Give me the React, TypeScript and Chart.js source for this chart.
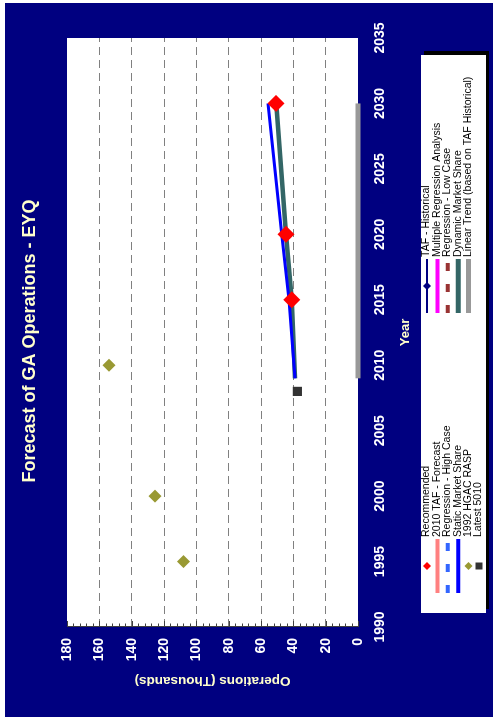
import React, { useEffect, useRef } from 'react';
import { Chart, registerables } from 'chart.js';

Chart.register(...registerables);

const FONT = "'Liberation Sans', Arial, Helvetica, sans-serif";

// ---- tick labels ----
const yearTicks = [1990, 1995, 2000, 2005, 2010, 2015, 2020, 2025, 2030, 2035];
const opsTicks = [0, 20, 40, 60, 80, 100, 120, 140, 160, 180];

// ---- series ----
const recommendedYears = [2015, 2020, 2030];
const recommendedOps = [41, 44.5, 50.7];

const staticYears = [2009, 2015, 2020, 2030];
const staticOps = [39, 42.7, 47.2, 55.7];

const dynamicYears = [2009, 2015, 2020, 2030];
const dynamicOps = [39, 41, 44.5, 50.5];

const hgacYears = [1995, 2000, 2010];
const hgacOps = [108, 125.5, 154];

const latestYears = [2008];
const latestOps = [37.5];

const linearYears = [2009, 2030];
const linearOps = [0, 0];

const tafHistYears: number[] = [];
const tafHistOps: number[] = [];
const taf2010Years: number[] = [];
const taf2010Ops: number[] = [];
const regHighYears: number[] = [];
const regHighOps: number[] = [];
const regLowYears: number[] = [];
const regLowOps: number[] = [];
const multiRegYears: number[] = [];
const multiRegOps: number[] = [];

const pts = (xs: number[], ys: number[]) => xs.map((x, i) => ({ x, y: ys[i] }));

const W = 723;
const H = 493;

const decorPlugin = {
  id: 'decor',
  beforeDraw(chart: any) {
    const { ctx, chartArea } = chart;
    ctx.save();
    ctx.fillStyle = '#ffffff';
    ctx.fillRect(0, 0, W, H);
    ctx.fillStyle = '#000080';
    ctx.fillRect(6, 5, 714, 488);
    ctx.fillStyle = '#ffffff';
    ctx.fillRect(chartArea.left, chartArea.top, chartArea.right - chartArea.left, chartArea.bottom - chartArea.top);
    ctx.restore();
  },
  afterDraw(chart: any) {
    const { ctx, chartArea } = chart;
    const yScale = chart.scales.y;
    ctx.save();
    // axis line + minor ticks
    ctx.strokeStyle = '#404040';
    ctx.lineWidth = 1;
    ctx.beginPath();
    ctx.moveTo(chartArea.left + 0.5, chartArea.top);
    ctx.lineTo(chartArea.left + 0.5, chartArea.bottom);
    ctx.stroke();
    for (let v = 0; v <= 180; v += 4) {
      const p = Math.round(yScale.getPixelForValue(v)) + 0.5;
      const len = v % 20 === 0 ? 6 : 3.5;
      ctx.beginPath();
      ctx.moveTo(chartArea.left, p);
      ctx.lineTo(chartArea.left + len, p);
      ctx.stroke();
    }

    // title
    ctx.fillStyle = '#FFFFCC';
    ctx.font = `bold 18px ${FONT}`;
    ctx.textAlign = 'center';
    ctx.textBaseline = 'middle';
    ctx.fillText('Forecast of GA Operations - EYQ', 382, 30);

    // legend
    const bx = 110, by = 421, bw = 558, bh = 65;
    ctx.fillStyle = '#000000';
    ctx.fillRect(bx + 4, by + 3, bw, bh);
    ctx.fillStyle = '#ffffff';
    ctx.fillRect(bx, by, bw, bh);
    const colX = [130, 410];
    const sampleLen = 54;
    const rowY0 = 427;
    const rowH = 10.4;
    chart.data.datasets.forEach((ds: any) => {
      const x0 = colX[ds.legendCol];
      const y = rowY0 + ds.legendRow * rowH;
      if (ds.showLine) {
        ctx.save();
        ctx.strokeStyle = ds.borderColor;
        ctx.lineWidth = ds.legendLineWidth || ds.borderWidth;
        ctx.setLineDash(ds.borderDash || []);
        ctx.beginPath();
        ctx.moveTo(x0, y);
        ctx.lineTo(x0 + sampleLen, y);
        ctx.stroke();
        ctx.restore();
      }
      if (ds.legendMarker) {
        const cx = x0 + sampleLen / 2;
        const r = ds.legendMarker;
        ctx.fillStyle = ds.backgroundColor;
        ctx.beginPath();
        if (ds.pointStyle === 'rect') {
          ctx.rect(cx - r, y - r, 2 * r, 2 * r);
        } else {
          ctx.moveTo(cx, y - r);
          ctx.lineTo(cx + r, y);
          ctx.lineTo(cx, y + r);
          ctx.lineTo(cx - r, y);
          ctx.closePath();
        }
        ctx.fill();
      }
      ctx.fillStyle = '#000000';
      ctx.font = `10.5px ${FONT}`;
      ctx.textAlign = 'left';
      ctx.textBaseline = 'middle';
      ctx.fillText(ds.label, x0 + sampleLen + 2, y - 0.5);
    });
    ctx.restore();
  },
};

export default function App() {
  const ref = useRef<HTMLCanvasElement | null>(null);

  useEffect(() => {
    if (!ref.current) return;
    const datasets: any[] = [
      {
        label: 'Recommended', data: pts(recommendedYears, recommendedOps), showLine: false,
        pointStyle: 'rectRot', pointRadius: 8.5, backgroundColor: '#FF0000', borderColor: '#FF0000', borderWidth: 0,
        order: 0, legendCol: 0, legendRow: 0, legendMarker: 4,
      },
      {
        label: '2010 TAF - Forecast', data: pts(taf2010Years, taf2010Ops), showLine: true,
        borderColor: '#FF8080', backgroundColor: '#FF8080', borderWidth: 4, pointRadius: 0,
        order: 10, legendCol: 0, legendRow: 1,
      },
      {
        label: 'Regression - High Case', data: pts(regHighYears, regHighOps), showLine: true,
        borderColor: '#3366FF', backgroundColor: '#3366FF', borderWidth: 4, borderDash: [8, 13], pointRadius: 0,
        order: 10, legendCol: 0, legendRow: 2,
      },
      {
        label: 'Static Market Share', data: pts(staticYears, staticOps), showLine: true,
        borderColor: '#0000FF', backgroundColor: '#0000FF', borderWidth: 3, pointRadius: 0,
        order: 3, legendCol: 0, legendRow: 3, legendLineWidth: 4,
      },
      {
        label: '1992 HGAC RASP', data: pts(hgacYears, hgacOps), showLine: false,
        pointStyle: 'rectRot', pointRadius: 6.5, backgroundColor: '#999933', borderColor: '#999933', borderWidth: 0,
        order: 2, legendCol: 0, legendRow: 4, legendMarker: 4,
      },
      {
        label: 'Latest 5010', data: pts(latestYears, latestOps), showLine: false,
        pointStyle: 'rect', pointRadius: 6.5, backgroundColor: '#333333', borderColor: '#333333', borderWidth: 0,
        order: 1, legendCol: 0, legendRow: 5, legendMarker: 3.5,
      },
      {
        label: 'TAF - Historical', data: pts(tafHistYears, tafHistOps), showLine: true,
        pointStyle: 'rectRot', pointRadius: 4, borderColor: '#000080', backgroundColor: '#000080', borderWidth: 2,
        order: 10, legendCol: 1, legendRow: 0, legendMarker: 4,
      },
      {
        label: 'Multiple Regression Analysis', data: pts(multiRegYears, multiRegOps), showLine: true,
        borderColor: '#FF00FF', backgroundColor: '#FF00FF', borderWidth: 4, pointRadius: 0,
        order: 10, legendCol: 1, legendRow: 1,
      },
      {
        label: 'Regression - Low Case', data: pts(regLowYears, regLowOps), showLine: true,
        borderColor: '#993333', backgroundColor: '#993333', borderWidth: 4, borderDash: [8, 13], pointRadius: 0,
        order: 10, legendCol: 1, legendRow: 2,
      },
      {
        label: 'Dynamic Market Share', data: pts(dynamicYears, dynamicOps), showLine: true,
        borderColor: '#336666', backgroundColor: '#336666', borderWidth: 4.5, pointRadius: 0,
        order: 4, legendCol: 1, legendRow: 3, legendLineWidth: 5,
      },
      {
        label: 'Linear Trend (based on TAF Historical)', data: pts(linearYears, linearOps), showLine: true,
        borderColor: '#999999', backgroundColor: '#999999', borderWidth: 5, pointRadius: 0, clip: false,
        order: 5, legendCol: 1, legendRow: 4,
      },
    ];

    const chart = new Chart(ref.current, {
      type: 'scatter',
      data: { datasets },
      options: {
        animation: false,
        responsive: false,
        devicePixelRatio: 1,
        layout: { padding: { left: 0, right: 38, top: 67, bottom: 0 } },
        plugins: {
          legend: { display: false },
          title: { display: false },
          tooltip: { enabled: false },
        },
        scales: {
          x: {
            type: 'linear',
            position: 'bottom',
            min: 1990,
            max: 2035,
            afterBuildTicks: (s: any) => { s.ticks = yearTicks.map((v) => ({ value: v })); },
            afterFit: (s: any) => { s.height = 135; },
            grid: { display: false, drawTicks: false },
            border: { display: false },
            ticks: {
              color: '#FFFFFF',
              font: { family: FONT, size: 14, weight: 'bold' },
              padding: 14,
              maxRotation: 0,
              autoSkip: false,
              callback: (v: any) => String(v),
            },
            title: {
              display: true,
              text: 'Year',
              color: '#FFFFCC',
              font: { family: FONT, size: 13, weight: 'bold' },
              padding: { top: 0, bottom: 80 },
            },
          },
          y: {
            type: 'linear',
            position: 'left',
            min: 0,
            max: 180,
            afterBuildTicks: (s: any) => { s.ticks = opsTicks.map((v) => ({ value: v })); },
            afterFit: (s: any) => { s.width = 96; },
            grid: {
              drawTicks: false,
              lineWidth: 1,
              color: (c: any) => (c.tick && (c.tick.value === 0 || c.tick.value === 180) ? 'rgba(0,0,0,0)' : '#808080'),
            },
            border: { display: false, dash: [8, 5] },
            ticks: {
              color: '#FFFFFF',
              font: { family: FONT, size: 14, weight: 'bold' },
              padding: 11,
              autoSkip: false,
              callback: (v: any) => String(v),
            },
            title: {
              display: true,
              text: 'Operations (Thousands)',
              color: '#FFFFCC',
              font: { family: FONT, size: 13.5, weight: 'bold' },
              padding: { top: 34, bottom: 0 },
            },
          },
        },
      } as any,
      plugins: [decorPlugin],
    });
    return () => chart.destroy();
  }, []);

  return (
    <div style={{ position: 'absolute', left: 0, top: 0, width: 493, height: 723, overflow: 'hidden', background: '#fff' }}>
      <div
        style={{
          position: 'absolute', left: 0, top: 0, width: W, height: H,
          transformOrigin: '0 0', transform: `translate(0px, ${W}px) rotate(-90deg)`,
        }}
      >
        <canvas ref={ref} width={W} height={H} style={{ display: 'block', width: W, height: H }} />
      </div>
    </div>
  );
}
